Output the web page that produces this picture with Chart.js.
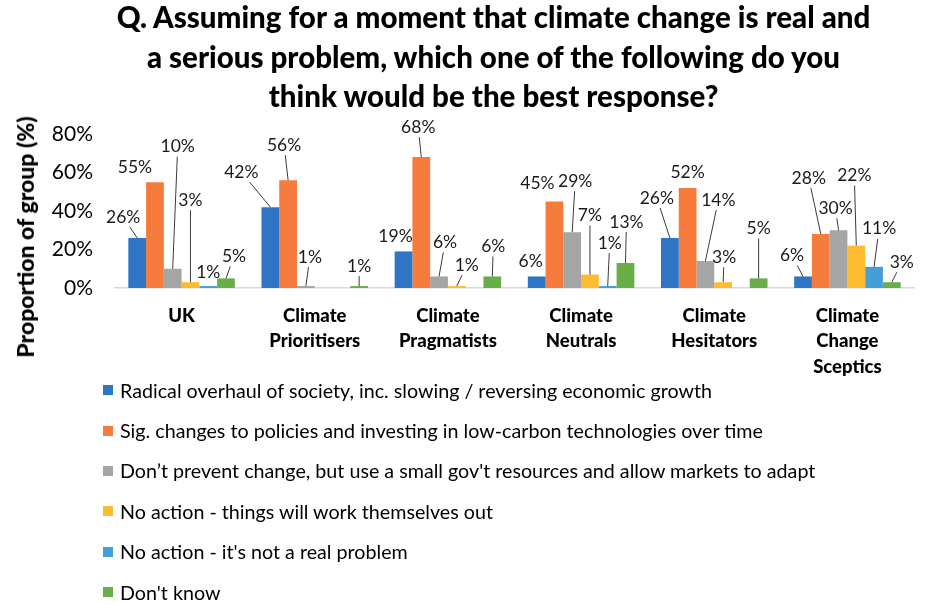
<!DOCTYPE html>
<html>
<head>
<meta charset="utf-8">
<script src="https://cdn.jsdelivr.net/npm/chart.js@4"></script>
<style>
  html, body { margin: 0; padding: 0; background: #fff; }
  body { width: 927px; height: 605px; position: relative; overflow: hidden; font-family: Lato, "Noto Sans", sans-serif; color: #000; }
  #chart { position: absolute; left: 0; top: 0; }
  #title { position: absolute; left: 60px; top: -3px; width: 867px; text-align: center; font-weight: 900; font-size: 29.5px; line-height: 39.5px; }
  #ytitle { position: absolute; left: 25px; top: 237px; transform: translate(-50%, -50%) rotate(-90deg); white-space: nowrap; font-weight: 900; font-size: 23px; }
  #legend { position: absolute; left: 103px; top: 370px; }
  .item { height: 40.4px; display: flex; align-items: center; font-size: 19.7px; white-space: nowrap; }
  .box { width: 10px; height: 10px; margin-right: 7px; flex: none; }
</style>
</head>
<body>
<canvas id="chart" width="927" height="605"></canvas>
<div id="title">Q. Assuming for a moment that climate change is real and<br>a serious problem, which one of the following do you<br>think would be the best response?</div>
<div id="ytitle">Proportion of group (%)</div>
<div id="legend"></div>
<script>
// categories (x axis)
const groups = [
    ['UK'],
    ['Climate', 'Prioritisers'],
    ['Climate', 'Pragmatists'],
    ['Climate', 'Neutrals'],
    ['Climate', 'Hesitators'],
    ['Climate', 'Change', 'Sceptics']
];

// answers (one series each), values in % per group, null = no bar
const answers = [
    'Radical overhaul of society, inc. slowing / reversing economic growth',
    'Sig. changes to policies and investing in low-carbon technologies over time',
    'Don\u2019t prevent change, but use a small gov\'t resources and allow markets to adapt',
    'No action - things will work themselves out',
    'No action - it\'s not a real problem',
    'Don\'t know'
];
const radical   = [26, 42, 19, 6, 26, 6];
const sigChange = [55, 56, 68, 45, 52, 28];
const smallGov  = [10, 1, 6, 29, 14, 30];
const workOut   = [3, null, 1, 7, 3, 22];
const notReal   = [1, null, null, 1, null, 11];
const dontKnow  = [5, 1, 6, 13, 5, 3];

const yTicks = [0, 20, 40, 60, 80];

const colors = ['#2E75C6', '#F57C3C', '#A5A5A5', '#FDBB2F', '#449FD8', '#6AAE4A'];

// manual label placement (px offset of label centre from bar top), like the hand-moved Excel labels
const labelOffsets = [
    [[-14, -21], [-29, -35], [-8, -15], [-6, -15], [-13, -40], [-11, -21]],
    [[-20, -15], [-4, -35], [-3, -30], [-17, -18], [0, -16], [-12, -56]],
    [[5, -122], [4, -29], [6, -34], [3, -51], [13, -61], [-3, -22]],
    [[0, -82], null, [10, -21], [0, -59], [1, -25], [-2, -70]],
    [[0, -14], null, null, [2, -43], null, [5, -38]],
    [[8, -22], [0, -20], [1, -30], [1, -41], [0, -50], [10, -20]]
];

const series = [radical, sigChange, smallGov, workOut, notReal, dontKnow];

// labels + leader lines
const barLabels = {
    id: 'barLabels',
    afterDatasetsDraw(chart) {
        const ctx = chart.ctx;
        ctx.save();
        ctx.font = '17.5px Lato, "Noto Sans", sans-serif';
        ctx.textAlign = 'center';
        ctx.textBaseline = 'middle';
        chart.data.datasets.forEach((ds, di) => {
            chart.getDatasetMeta(di).data.forEach((bar, i) => {
                const v = ds.data[i];
                const off = labelOffsets[di][i];
                if (v === null || !off) return;
                const lx = bar.x + off[0], ly = bar.y + off[1];
                const txt = v + '%';
                const w = ctx.measureText(txt).width / 2 + 2, h = 10;
                if (off[1] < -18) {
                    // start on the label box edge, end at bar top
                    const dx = bar.x - lx, dy = bar.y - ly;
                    const t = Math.min(dx !== 0 ? w / Math.abs(dx) : 1e9, h / Math.abs(dy));
                    ctx.strokeStyle = '#3a3a3a';
                    ctx.lineWidth = 1;
                    ctx.beginPath();
                    ctx.moveTo(lx + dx * t, ly + dy * t);
                    ctx.lineTo(bar.x, bar.y);
                    ctx.stroke();
                }
                ctx.fillStyle = '#1a1a1a';
                ctx.fillText(txt, lx, ly);
            });
        });
        ctx.restore();
    }
};

new Chart(document.getElementById('chart'), {
    type: 'bar',
    data: {
        labels: groups,
        datasets: series.map((d, i) => ({
            label: answers[i],
            data: d,
            backgroundColor: colors[i],
            categoryPercentage: 0.8,
            barPercentage: 1.0
        }))
    },
    options: {
        responsive: false,
        animation: false,
        layout: { padding: { left: 10, right: 13, top: 134, bottom: 207 } },
        plugins: { legend: { display: false }, tooltip: { enabled: false } },
        scales: {
            x: {
                grid: { display: false },
                border: { display: true, color: '#D9D9D9', width: 1.5 },
                ticks: { color: '#000', font: { family: 'Lato', weight: 900, size: 18.5, lineHeight: 1.38 }, padding: 7, maxRotation: 0 },
                afterFit: s => { s.height = 110; }
            },
            y: {
                min: 0, max: 80,
                grid: { display: false },
                border: { display: false },
                afterBuildTicks: s => { s.ticks = yTicks.map(v => ({ value: v })); },
                ticks: { color: '#000', font: { family: 'Lato', size: 21 }, padding: 14, callback: v => v + '%' },
                afterFit: s => { s.width = 105; }
            }
        }
    },
    plugins: [barLabels]
});

// legend, one answer per row
document.getElementById('legend').innerHTML = answers.map((a, i) =>
    `<div class="item"><span class="box" style="background:${colors[i]}"></span>${a}</div>`
).join('');
</script>
</body>
</html>
